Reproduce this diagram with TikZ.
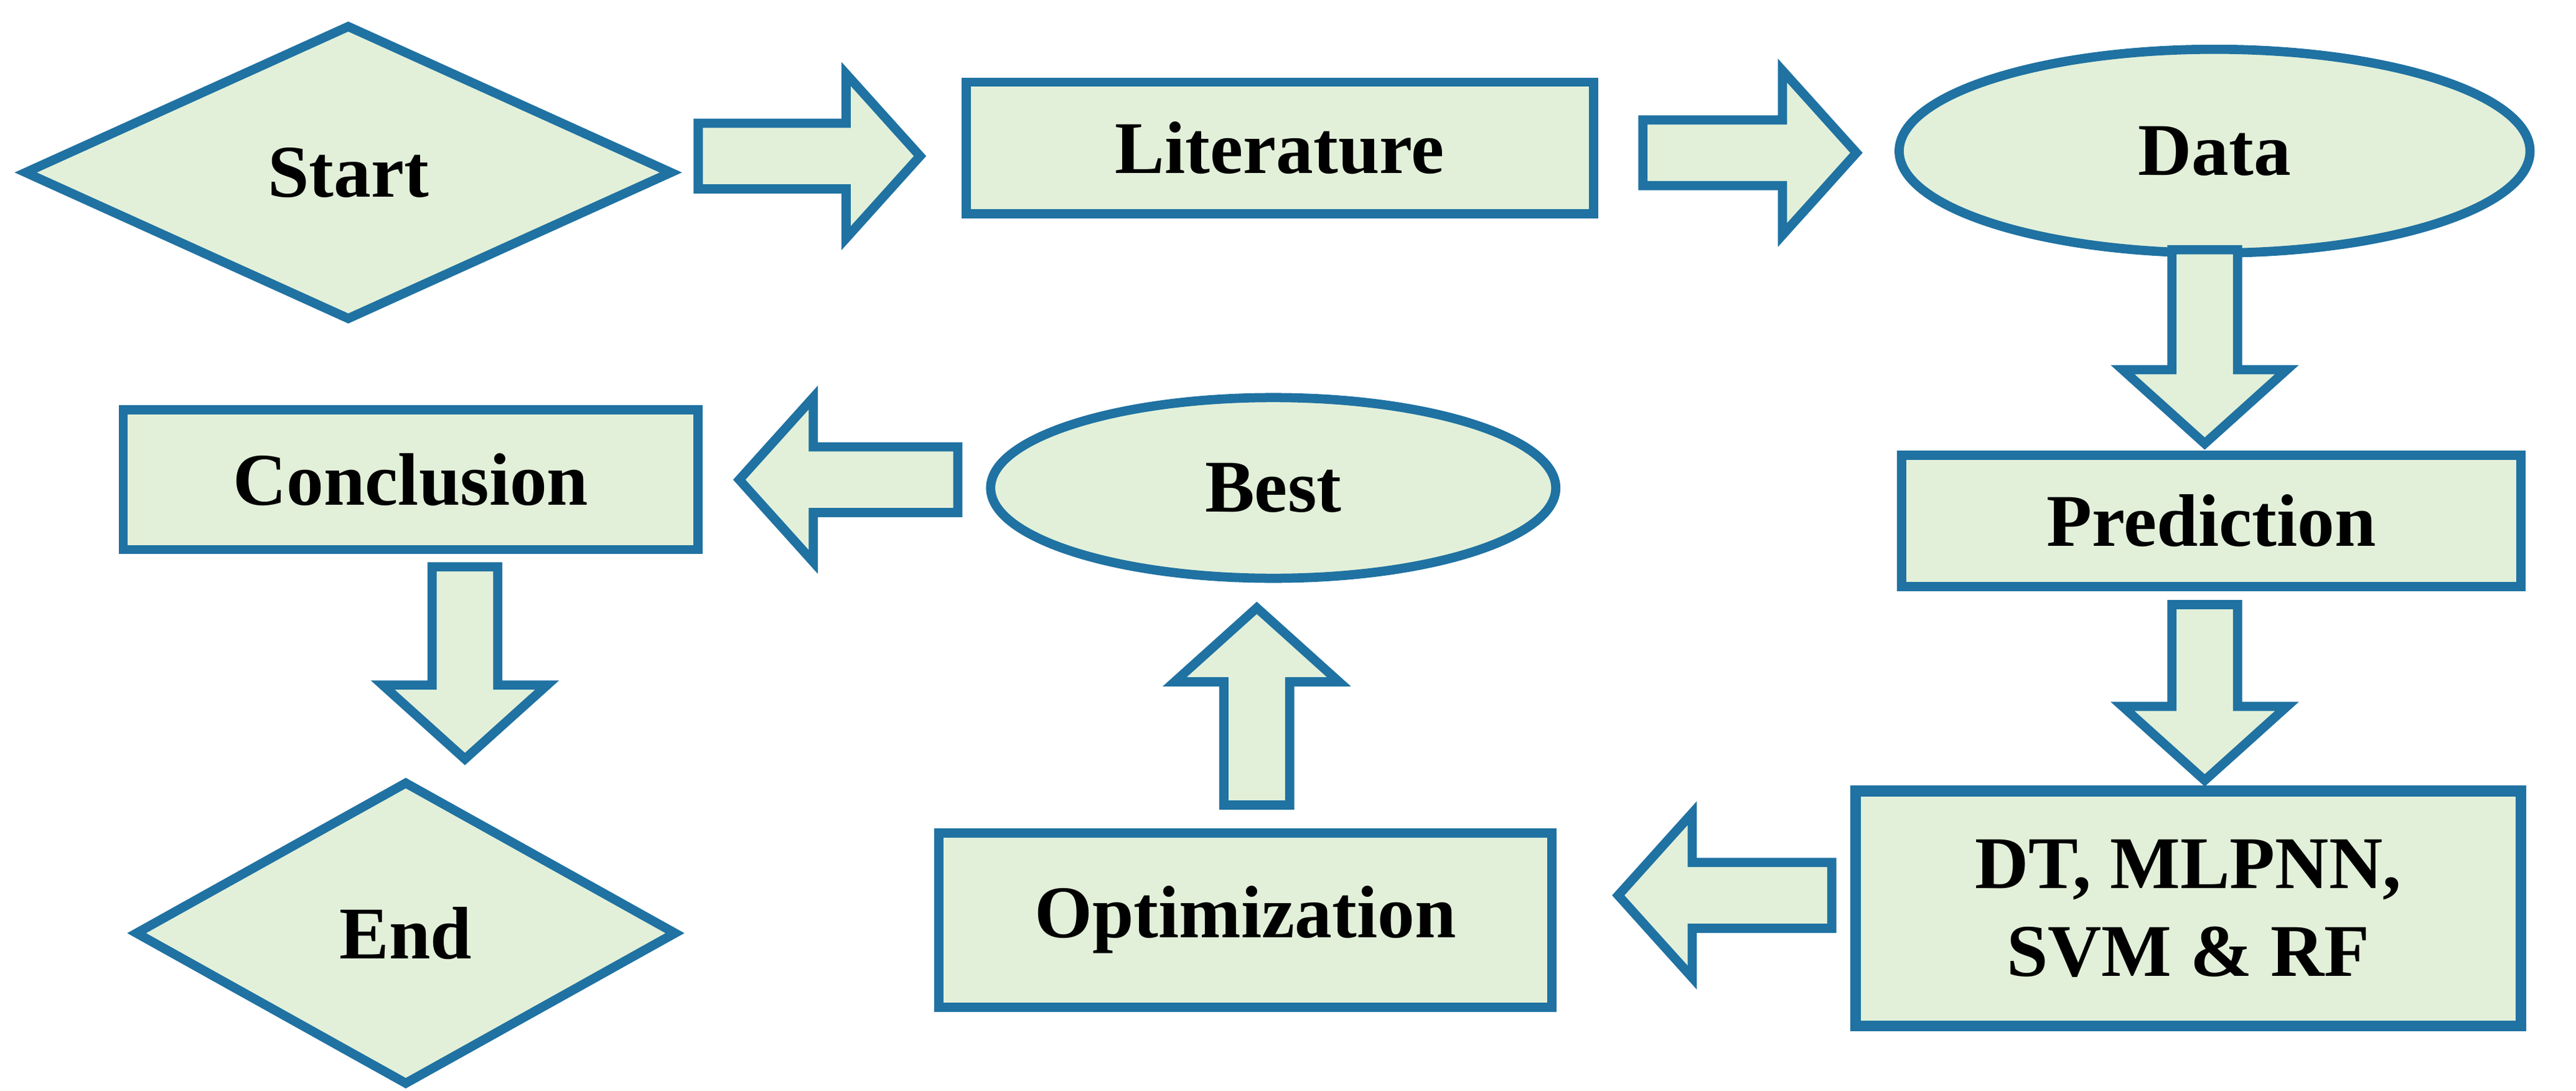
\documentclass[tikz,border=0pt]{standalone}
\usepackage{fontspec}
\setmainfont{Liberation Serif}
\usetikzlibrary{shapes.geometric}
\definecolor{bord}{HTML}{1F72A2}
\definecolor{fillg}{HTML}{E2F0D9}
\newcommand\blockarr[4]{%
  \begin{scope}[shift={(#1,#2)},rotate=#3]
  \draw[shp] (0,-20)--(#4-45,-20)--(#4-45,-50)--(#4,0)--(#4-45,50)--(#4-45,20)--(0,20)--cycle;
  \end{scope}}
\begin{document}
\begin{tikzpicture}[x=0.0264cm,y=-0.0264cm,
  shp/.style={draw=bord,fill=fillg,line width=4.2pt,line join=miter},
  lbl/.style={font=\fontsize{34}{40}\selectfont\bfseries,align=center}]
\useasboundingbox (0,0) rectangle (1568,664);
\node[shp,diamond,aspect=2.2,minimum width=395*0.0264cm,minimum height=180*0.0264cm,inner sep=0pt,lbl] (start) at (212,105) {Start};
\node[shp,rectangle,minimum width=382*0.0264cm,minimum height=80*0.0264cm,lbl] (lit) at (779,90) {Literature};
\node[shp,ellipse,minimum width=384*0.0264cm,minimum height=124*0.0264cm,lbl] (data) at (1348,92) {Data};
\node[shp,rectangle,minimum width=377*0.0264cm,minimum height=80*0.0264cm,lbl] (pred) at (1346,317) {Prediction};
\node[shp,rectangle,minimum width=405*0.0264cm,minimum height=143*0.0264cm,lbl,line width=5pt] (dt) at (1332,553) {DT, MLPNN,\\SVM \& RF};
\node[shp,rectangle,minimum width=373*0.0264cm,minimum height=106*0.0264cm,lbl] (opt) at (758,560) {Optimization};
\node[shp,ellipse,minimum width=344*0.0264cm,minimum height=110*0.0264cm,lbl] (best) at (775,297) {Best};
\node[shp,rectangle,minimum width=350*0.0264cm,minimum height=85*0.0264cm,lbl] (conc) at (250,292) {Conclusion};
\node[shp,diamond,aspect=1.8,minimum width=330*0.0264cm,minimum height=185*0.0264cm,inner sep=0pt,lbl] (end) at (247,568) {End};
\blockarr{425}{95}{0}{135}
\blockarr{1000}{93}{0}{130}
\blockarr{1342}{152}{-90}{118}
\blockarr{1342}{368}{-90}{107}
\blockarr{1115}{545}{180}{130}
\blockarr{765}{490}{90}{120}
\blockarr{583}{292}{180}{133}
\blockarr{283}{345}{-90}{117}
\end{tikzpicture}
\end{document}
